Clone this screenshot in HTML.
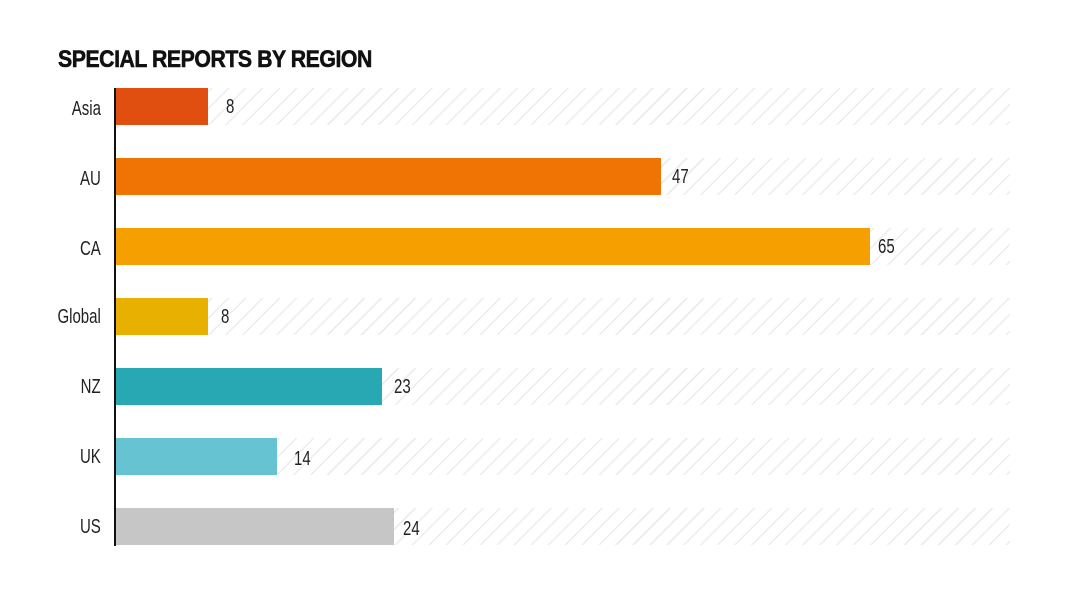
<!DOCTYPE html>
<html><head><style>
body{margin:0;width:1092px;height:607px;background:#fff;font-family:"Liberation Sans",sans-serif;position:relative;overflow:hidden}
.t{position:absolute;left:58px;top:46px;font-size:24px;font-weight:bold;color:#111;transform:scaleX(0.885);transform-origin:left;letter-spacing:-0.5px;white-space:nowrap;-webkit-text-stroke:0.6px #111}
.axis{position:absolute;left:114px;top:88px;width:2px;height:458px;background:#111}
.bg{position:absolute;left:116px;width:894px;height:37px;background:repeating-linear-gradient(135deg,#fff 0,#fff 7px,#ececec 7px,#ececec 8.5px,#fff 8.5px,#fff 12px)}
.bar{position:absolute;left:116px;height:37px}
.l{position:absolute;font-size:20px;color:#222;transform:scaleX(0.75);white-space:nowrap}
.lab{right:991px;transform-origin:right}
.v{transform-origin:left}
</style></head><body>
<div class="t">SPECIAL REPORTS BY REGION</div>
<div class="axis"></div>

<div class="bg" style="top:88px"></div><div class="bar" style="top:88px;width:92px;background:#e04e10"></div>
<div class="l lab" style="top:98px">Asia</div><div class="l v" style="top:96px;left:226px">8</div>

<div class="bg" style="top:158px"></div><div class="bar" style="top:158px;width:545px;background:#ef7403"></div>
<div class="l lab" style="top:168px">AU</div><div class="l v" style="top:166px;left:672px">47</div>

<div class="bg" style="top:228px"></div><div class="bar" style="top:228px;width:754px;background:#f5a000"></div>
<div class="l lab" style="top:238px">CA</div><div class="l v" style="top:236px;left:878px">65</div>

<div class="bg" style="top:298px"></div><div class="bar" style="top:298px;width:92px;background:#e8b000"></div>
<div class="l lab" style="top:306px">Global</div><div class="l v" style="top:306px;left:221px">8</div>

<div class="bg" style="top:368px"></div><div class="bar" style="top:368px;width:266px;background:#27a8b2"></div>
<div class="l lab" style="top:376px">NZ</div><div class="l v" style="top:376px;left:394px">23</div>

<div class="bg" style="top:438px"></div><div class="bar" style="top:438px;width:161px;background:#66c3d1"></div>
<div class="l lab" style="top:446px">UK</div><div class="l v" style="top:448px;left:294px">14</div>

<div class="bg" style="top:508px"></div><div class="bar" style="top:508px;width:278px;background:#c6c6c6"></div>
<div class="l lab" style="top:516px">US</div><div class="l v" style="top:518px;left:403px">24</div>
</body></html>
